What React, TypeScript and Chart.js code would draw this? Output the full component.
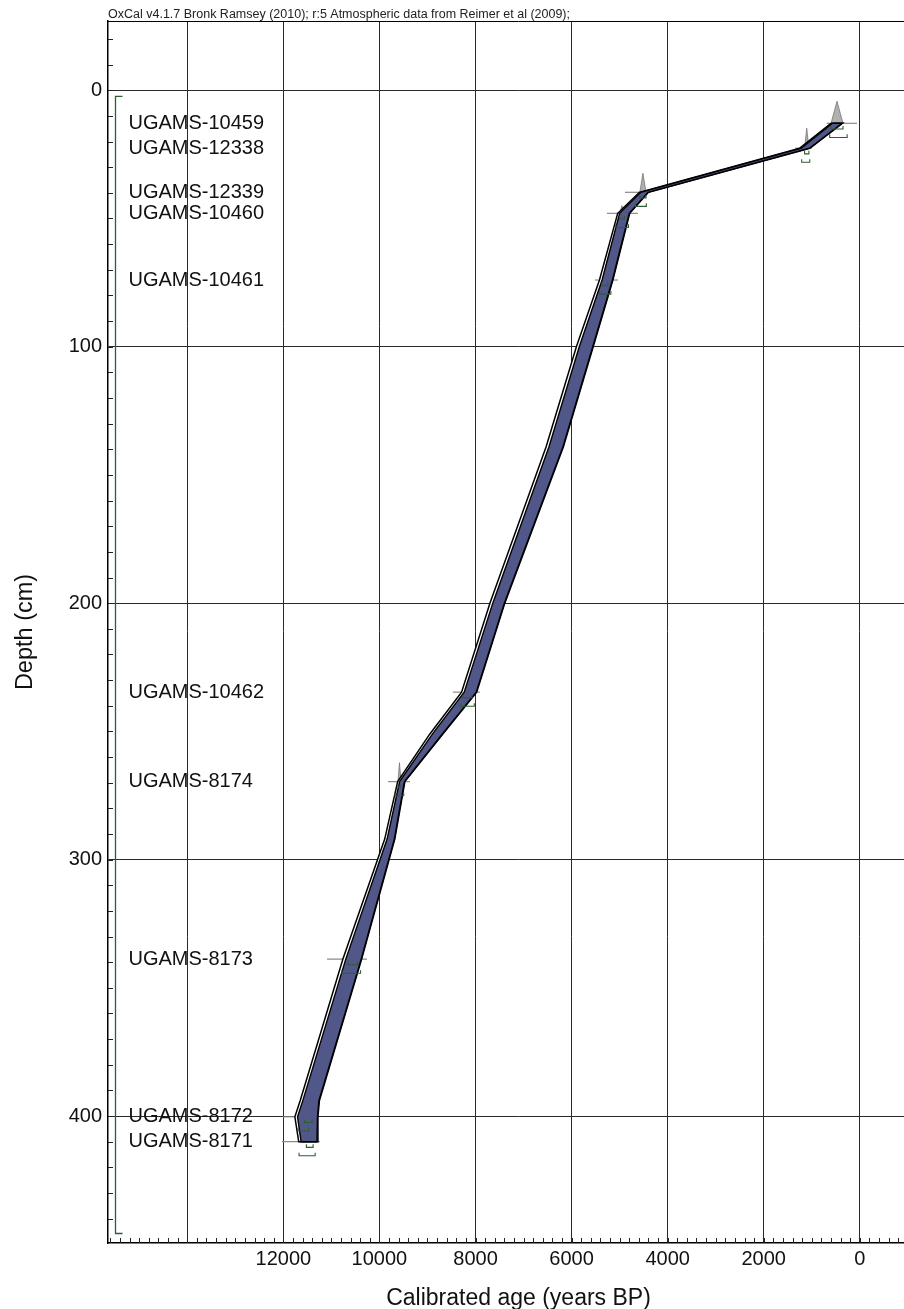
import { useEffect, useRef } from 'react';
import { Chart, registerables } from 'chart.js';

Chart.register(...registerables);

const FONT = 'Arial, "Liberation Sans", sans-serif';
const HEADER = 'OxCal v4.1.7 Bronk Ramsey (2010); r:5 Atmospheric data from Reimer et al (2009);';
const X_TITLE = 'Calibrated age (years BP)';
const Y_TITLE = 'Depth (cm)';

// Axis extents (calibrated years BP, depth in cm)
const X_MIN = -1440;
const X_MAX = 15650;
const Y_MIN = -27;
const Y_MAX = 449.5;
const xGridValues = [0, 2000, 4000, 6000, 8000, 10000, 12000, 14000];
const xLabelledTicks = [12000, 10000, 8000, 6000, 4000, 2000, 0];
const yGridValues = [0, 100, 200, 300, 400];

// Dated samples
const sampleNames = [
  'UGAMS-10459', 'UGAMS-12338', 'UGAMS-12339', 'UGAMS-10460', 'UGAMS-10461',
  'UGAMS-10462', 'UGAMS-8174', 'UGAMS-8173', 'UGAMS-8172', 'UGAMS-8171',
];
const sampleDepths = [12.9, 22.6, 39.8, 48.0, 74.0, 234.7, 269.6, 338.8, 400.3, 410.0];
// calibrated range of each date (older / younger end)
const sampleOld = [690, 1350, 4890, 5265, 5515, 8470, 9820, 11090, 12010, 12030];
const sampleYoung = [60, 1000, 4430, 4620, 5035, 7910, 9365, 10260, 11650, 11240];
// main probability peak of each date
const peakOld = [600, 1150, 4580, 5000, 5370, 8260, 9615, 10650, 11560, 11520];
const peakYoung = [350, 1060, 4450, 4900, 5245, 8075, 9550, 10450, 11400, 11380];
const peakHeight = [8.6, 7.8, 7.4, 3.0, 7.8, 6.6, 7.4, 5.0, 7.0, 5.0];

// Age-depth model envelopes
const modelDepths = [12.9, 22.6, 39.8, 48.0, 74.0, 100, 139, 200, 234.7, 251, 269.6, 292, 338.8, 394, 400.3, 410];
const old95 = [600, 1250, 4590, 5040, 5420, 5900, 6530, 7700, 8290, 8950, 9620, 9890, 10760, 11650, 11760, 11680];
const young95 = [360, 1040, 4400, 4790, 5140, 5550, 6170, 7390, 7975, 8680, 9470, 9680, 10370, 11250, 11280, 11290];
const old68 = [570, 1215, 4560, 5000, 5365, 5840, 6470, 7640, 8235, 8895, 9580, 9840, 10700, 11595, 11705, 11630];
const young68 = [370, 1050, 4410, 4800, 5150, 5560, 6180, 7400, 7985, 8690, 9480, 9690, 10380, 11260, 11290, 11300];

// Sequence boundary span
const boundaryTop = 2.4;
const boundaryBottom = 445.8;

type Pt = { x: number; y: number };

function envelope(depths: number[], older: number[], younger: number[]): Pt[] {
  const pts: Pt[] = depths.map((d, i) => ({ x: older[i], y: d }));
  for (let i = depths.length - 1; i >= 0; i--) pts.push({ x: younger[i], y: depths[i] });
  pts.push(pts[0]);
  return pts;
}

function poly(color: string, fill: string | false, width: number, data: Pt[], order: number) {
  return {
    data,
    showLine: true,
    borderColor: color,
    borderWidth: width,
    backgroundColor: fill || 'transparent',
    fill: fill ? 'shape' : false,
    pointRadius: 0,
    tension: 0,
    order,
  };
}

const extras = {
  id: 'extras',
  afterDatasetsDraw(chart: any) {
    const { ctx, chartArea: a, scales } = chart;
    const xs = scales.x;
    const ys = scales.y;
    ctx.save();

    // top frame line
    ctx.strokeStyle = '#000';
    ctx.lineWidth = 1;
    ctx.beginPath();
    ctx.moveTo(a.left, a.top + 0.5);
    ctx.lineTo(a.right, a.top + 0.5);
    ctx.stroke();

    // inward minor ticks
    ctx.strokeStyle = '#222';
    ctx.beginPath();
    for (let v = -20; v <= 440; v += 10) {
      const y = Math.round(ys.getPixelForValue(v)) + 0.5;
      ctx.moveTo(a.left, y);
      ctx.lineTo(a.left + 5, y);
    }
    for (let v = -1400; v <= 15600; v += 200) {
      const x = Math.round(xs.getPixelForValue(v)) + 0.5;
      ctx.moveTo(x, a.bottom);
      ctx.lineTo(x, a.bottom - 5);
    }
    ctx.stroke();

    // x tick labels
    ctx.fillStyle = '#111';
    ctx.font = `20px ${FONT}`;
    ctx.textAlign = 'center';
    ctx.textBaseline = 'middle';
    xLabelledTicks.forEach((v) => {
      ctx.fillText(String(v), xs.getPixelForValue(v), a.bottom + 16);
    });

    // boundary bracket
    const bx = a.left + 7.5;
    const bt = ys.getPixelForValue(boundaryTop);
    const bb = ys.getPixelForValue(boundaryBottom);
    ctx.strokeStyle = '#2f5e35';
    ctx.lineWidth = 1.3;
    ctx.beginPath();
    ctx.moveTo(bx + 7, bt);
    ctx.lineTo(bx, bt);
    ctx.lineTo(bx, bb);
    ctx.lineTo(bx + 7, bb);
    ctx.stroke();

    // sample names
    ctx.fillStyle = '#111';
    ctx.font = `20px ${FONT}`;
    ctx.textBaseline = 'middle';
    ctx.textAlign = 'left';
    sampleNames.forEach((name, i) => {
      ctx.fillText(name, a.left + 20.5, ys.getPixelForValue(sampleDepths[i]));
    });

    // header
    ctx.fillStyle = '#222';
    ctx.font = `12.5px ${FONT}`;
    ctx.textBaseline = 'alphabetic';
    ctx.fillText(HEADER, a.left, a.top - 3);
    ctx.restore();
  },
};

export default function App() {
  const ref = useRef<HTMLCanvasElement>(null);

  useEffect(() => {
    if (!ref.current) return;

    const datasets: any[] = [];

    // calibrated date ranges
    sampleDepths.forEach((d, i) => {
      datasets.push(poly('#8a8a8a', false, 1.2, [
        { x: sampleOld[i], y: d },
        { x: sampleYoung[i], y: d },
      ], 6));
      datasets.push(poly('rgba(110,110,110,0.9)', 'rgba(150,150,150,0.75)', 0.8, [
        { x: peakOld[i], y: d },
        { x: (peakOld[i] + peakYoung[i]) / 2, y: d - peakHeight[i] },
        { x: peakYoung[i], y: d },
        { x: peakOld[i], y: d },
      ], 5));
      // range brackets under each date
      const r1 = d + 2.2;
      const r2 = d + 5.5;
      datasets.push(poly('#2f5e35', false, 1.1, [
        { x: peakOld[i], y: r1 - 1.2 },
        { x: peakOld[i], y: r1 },
        { x: peakYoung[i], y: r1 },
        { x: peakYoung[i], y: r1 - 1.2 },
      ], 1));
      datasets.push(poly('#2f5e35', false, 1.1, [
        { x: peakOld[i] + (sampleOld[i] - peakOld[i]) * 0.3, y: r2 - 1.2 },
        { x: peakOld[i] + (sampleOld[i] - peakOld[i]) * 0.3, y: r2 },
        { x: peakYoung[i] - (peakYoung[i] - sampleYoung[i]) * 0.3, y: r2 },
        { x: peakYoung[i] - (peakYoung[i] - sampleYoung[i]) * 0.3, y: r2 - 1.2 },
      ], 1));
    });

    datasets.push(poly('#000', '#ffffff', 1.5, envelope(modelDepths, old95, young95), 4));
    datasets.push(poly('#000', '#525789', 1.4, envelope(modelDepths, old68, young68), 3));

    const chart = new Chart(ref.current, {
      type: 'scatter',
      data: { datasets },
      options: {
        animation: false,
        responsive: false,
        events: [],
        layout: { padding: { top: 21, right: 1, bottom: 0, left: 0 } },
        plugins: {
          legend: { display: false },
          tooltip: { enabled: false },
          title: { display: false },
        },
        scales: {
          x: {
            type: 'linear',
            reverse: true,
            bounds: 'data',
            min: X_MIN,
            max: X_MAX,
            afterBuildTicks: (s: any) => { s.ticks = xGridValues.map((value) => ({ value })); },
            afterFit: (s: any) => { s.height = 66; s.paddingLeft = 0; s.paddingRight = 0; },
            ticks: { display: false },
            grid: { color: '#2a2a2a', lineWidth: 1, drawTicks: false },
            border: { display: true, color: '#000', width: 1.5 },
            title: {
              display: true,
              text: X_TITLE,
              color: '#111',
              font: { family: FONT, size: 23, lineHeight: 0.87 },
              padding: { top: 0, bottom: 0 },
            },
          },
          y: {
            type: 'linear',
            reverse: true,
            bounds: 'data',
            min: Y_MIN,
            max: Y_MAX,
            afterBuildTicks: (s: any) => { s.ticks = yGridValues.map((value) => ({ value })); },
            afterFit: (s: any) => { s.width = 108; s.paddingTop = 0; s.paddingBottom = 0; },
            ticks: {
              padding: 6,
              color: '#111',
              font: { family: FONT, size: 20 },
            },
            grid: { color: '#2a2a2a', lineWidth: 1, drawTicks: false },
            border: { display: true, color: '#000', width: 1.5 },
            title: {
              display: true,
              text: Y_TITLE,
              color: '#111',
              font: { family: FONT, size: 23.5 },
              padding: { top: 11, bottom: 0 },
            },
          },
        },
      },
      plugins: [extras],
    } as any);

    return () => chart.destroy();
  }, []);

  return (
    <div style={{ position: 'absolute', left: 0, top: 0, width: 904, height: 1309, overflow: 'hidden', background: '#fff' }}>
      <canvas ref={ref} width={930} height={1309} style={{ display: 'block' }} />
    </div>
  );
}
